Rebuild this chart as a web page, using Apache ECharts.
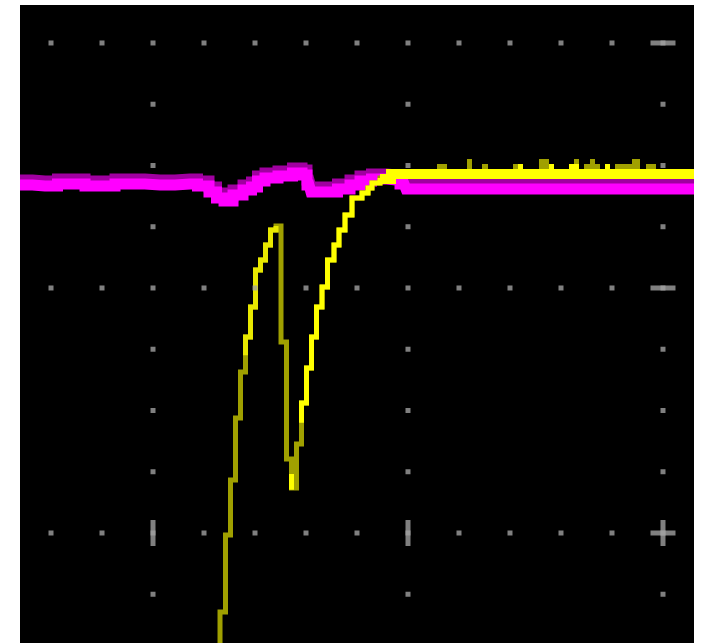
<!DOCTYPE html>
<html>
<head>
<meta charset="utf-8">
<script src="https://cdn.jsdelivr.net/npm/echarts@6.0.0/dist/echarts.min.js"></script>
<style>
  html, body { margin: 0; padding: 0; background: #ffffff; }
  #scope { width: 702px; height: 643px; }
</style>
</head>
<body>
<div id="scope"></div>
<script>
// screen units: x in minor divisions (0 = centre marker), y in minor divisions (0 = middle row)
const gridCols = [-7, -6, -5, -4, -3, -2, -1, 0, 1, 2, 3, 4, 5]
const majorCols = [-5, 0, 5]
const majorRows = [4, 0, -4]
const minorRows = [3, 2, 1, -1, -2, -3, -5]
const rightTicks = [[5, 4], [5, 0], [5, -4]]
const bottomTicks = [[-5, -4], [0, -4], [5, -4]]

// CH1 (yellow) - full trace, stair steps
const ch1Trace = [
  [-3.686, -6.073], [-3.686, -5.29], [-3.578, -4.033], [-3.48, -3.135], [-3.382, -2.122],
  [-3.284, -1.371], [-3.186, -0.8], [-3.088, -0.31], [-2.99, 0.294], [-2.892, 0.457],
  [-2.794, 0.702], [-2.696, 0.947], [-2.588, 1.012], [-2.49, -0.882], [-2.382, -2.792],
  [-2.284, -3.265], [-2.186, -2.547], [-2.088, -1.878], [-1.99, -1.306], [-1.892, -0.8],
  [-1.794, -0.31], [-1.686, 0.016], [-1.578, 0.457], [-1.451, 0.702], [-1.353, 0.947],
  [-1.235, 1.192], [-1.098, 1.469], [-0.902, 1.551], [-0.784, 1.633], [-0.706, 1.714],
  [-0.549, 1.796], [-0.333, 1.861], [5.608, 1.861]
]
// brighter parts of CH1
const ch1BrightLeft = [
  [-3.186, -1.1], [-3.186, -0.8], [-3.088, -0.31], [-2.99, 0.294], [-2.892, 0.457],
  [-2.794, 0.702], [-2.696, 0.947], [-2.588, 1.012]
]
const ch1BrightTip = [[-2.284, -3.037], [-2.284, -3.294]]
const ch1BrightRight = [
  [-2.088, -2.2], [-2.088, -1.878], [-1.99, -1.306], [-1.892, -0.8], [-1.794, -0.31],
  [-1.686, 0.016], [-1.578, 0.457], [-1.451, 0.702], [-1.353, 0.947], [-1.235, 1.192],
  [-1.098, 1.469], [-0.902, 1.551], [-0.784, 1.633], [-0.706, 1.714], [-0.549, 1.796]
]
const ch1Flat = [[-0.549, 1.78], [-0.333, 1.861], [5.608, 1.861]]
// noise above the settled level: [x from, x to, top]
const ch1NoiseDim = [
  [0.569, 0.765, 2.024], [1.157, 1.255, 2.106], [1.451, 1.569, 2.024], [2.059, 2.157, 2.024],
  [2.569, 2.765, 2.106], [3.255, 3.353, 2.106], [3.451, 3.765, 2.024], [3.569, 3.667, 2.106],
  [4.059, 4.549, 2.024], [4.392, 4.549, 2.106], [4.667, 4.863, 2.024]
]
const ch1NoiseBright = [
  [2.157, 2.255, 2.024], [2.765, 2.863, 2.024], [3.157, 3.353, 2.024], [3.863, 3.961, 2.024]
]

// CH2 (magenta)
const ch2Trace = [
  [-7.608, 1.682], [-7.118, 1.665], [-6.627, 1.698], [-6.039, 1.665], [-5.451, 1.698],
  [-4.863, 1.682], [-4.275, 1.698], [-3.98, 1.665], [-3.824, 1.567], [-3.686, 1.469],
  [-3.529, 1.42], [-3.333, 1.518], [-3.137, 1.6], [-3.0, 1.649], [-2.902, 1.747],
  [-2.706, 1.796], [-2.392, 1.829], [-2.137, 1.878], [-2.02, 1.845], [-1.941, 1.682],
  [-1.863, 1.567], [-1.529, 1.567], [-1.235, 1.616], [-1.039, 1.682], [-0.843, 1.747],
  [-0.588, 1.78], [-0.235, 1.763], [-0.078, 1.698], [0, 1.616], [5.608, 1.616]
]

const YELLOW = "#ffff00"
const OLIVE = "#a0a000"
const MAGENTA = "#ff00ff"
const DARK_MAGENTA = "#a000a0"
const GRID_GREY = "#a0a0a0"

// dot graticule
const dots = []
majorRows.forEach(y => gridCols.forEach(x => dots.push([x, y])))
minorRows.forEach(y => majorCols.forEach(x => dots.push([x, y])))

const settled = ch1Flat[ch1Flat.length - 1][1]

function stepLine(data, color, width, z) {
  return {
    type: "line",
    data: data,
    step: "end",
    showSymbol: false,
    silent: true,
    clip: true,
    z: z,
    lineStyle: { color: color, width: width, join: "miter", cap: "butt" }
  }
}

function noiseBlocks(data, color, z) {
  return {
    type: "custom",
    data: data,
    silent: true,
    z: z,
    encode: { x: [0, 1], y: 2 },
    renderItem(params, api) {
      const p0 = api.coord([api.value(0), api.value(2)])
      const p1 = api.coord([api.value(1), settled])
      return {
        type: "rect",
        shape: { x: p0[0], y: p0[1], width: p1[0] - p0[0], height: p1[1] - p0[1] },
        style: { fill: color }
      }
    }
  }
}

const chart = echarts.init(document.getElementById("scope"), null, { renderer: "canvas" })
chart.setOption({
  animation: false,
  backgroundColor: "#ffffff",
  grid: {
    left: 20,
    top: 5,
    width: 674,
    height: 638,
    show: true,
    backgroundColor: "#000000",
    borderWidth: 0
  },
  xAxis: { type: "value", min: -7.608, max: 5.608, show: false },
  yAxis: { type: "value", min: -5.796, max: 4.62, show: false },
  series: [
    {
      type: "line",
      data: ch2Trace,
      step: "middle",
      showSymbol: false,
      silent: true,
      clip: true,
      z: 2,
      lineStyle: {
        color: MAGENTA,
        width: 11,
        cap: "butt",
        join: "miter",
        shadowColor: DARK_MAGENTA,
        shadowBlur: 0,
        shadowOffsetY: -5
      }
    },
    noiseBlocks(ch1NoiseDim, OLIVE, 3),
    noiseBlocks(ch1NoiseBright, YELLOW, 3),
    stepLine(ch1Trace, OLIVE, 5, 4),
    stepLine(ch1BrightLeft, "#e8e800", 5, 5),
    stepLine(ch1BrightTip, YELLOW, 5, 5),
    stepLine(ch1BrightRight, YELLOW, 5, 5),
    stepLine(ch1Flat, YELLOW, 10, 5),
    {
      type: "scatter",
      data: dots,
      symbol: "rect",
      symbolSize: 5,
      silent: true,
      z: 10,
      itemStyle: { color: GRID_GREY }
    },
    {
      type: "scatter",
      data: rightTicks,
      symbol: "rect",
      symbolSize: [25, 5],
      silent: true,
      z: 11,
      itemStyle: { color: GRID_GREY }
    },
    {
      type: "scatter",
      data: bottomTicks,
      symbol: "rect",
      symbolSize: [5, 26],
      silent: true,
      z: 11,
      itemStyle: { color: GRID_GREY }
    }
  ]
})
</script>
</body>
</html>
